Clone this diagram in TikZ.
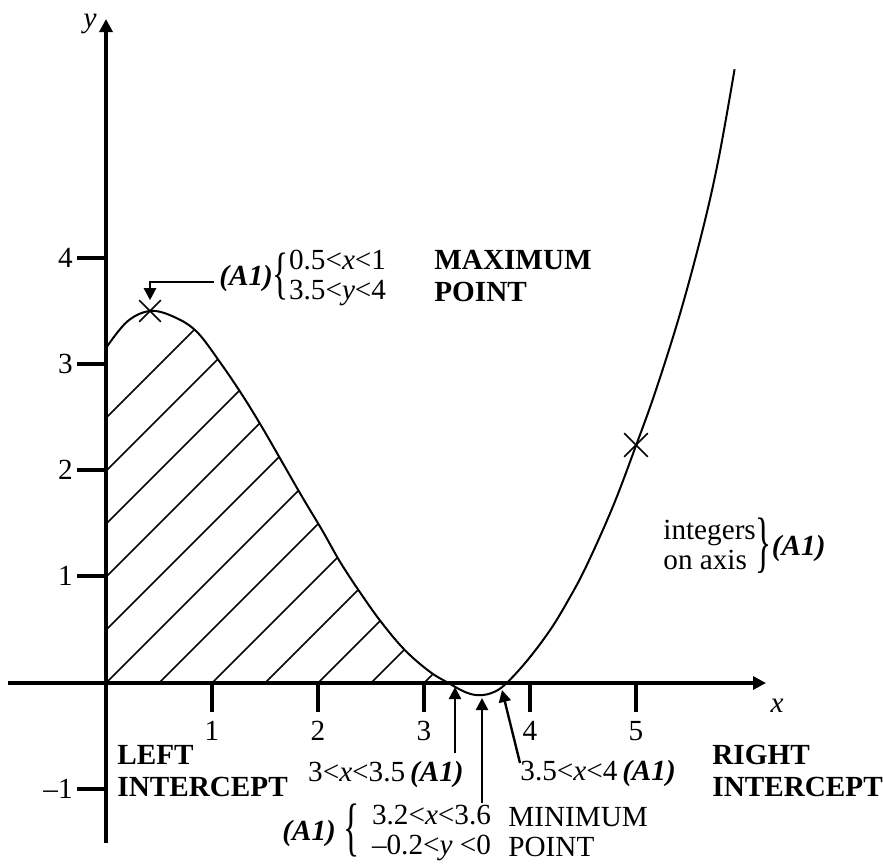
\documentclass[tikz,border=0pt]{standalone}
\usepackage{fontspec}
\setmainfont{Liberation Serif}
\usetikzlibrary{arrows.meta,shapes.misc}
\newcommand{\mybrace}[3]{\raisebox{#2}{\scalebox{1.15}[#1]{#3}}}
\begin{document}
\begin{tikzpicture}[x=0.5pt,y=-0.5pt,
  every node/.style={font=\fontsize{14.6}{15}\selectfont, inner sep=0pt},
  axis/.style={line width=1.6pt},
  axtip/.style={-{Triangle[length=6.5pt,width=6.5pt]}},
  curve/.style={line width=1pt},
  hatch/.style={line width=0.75pt},
  lbl/.style={line width=1.2pt, -{Triangle[length=6pt,width=6pt]}},
  xmark/.style={cross out, draw, minimum size=10pt, inner sep=0pt, line width=0.8pt},
  bftext/.style={font=\fontsize{14.6}{16}\selectfont\bfseries, align=left},
  ]
\useasboundingbox (0,0) rectangle (883,864);
\coordinate (O) at (106,683);
\coordinate (xstart) at (8,683);
\coordinate (xend) at (766,683);
\coordinate (ystart) at (106,843);
\coordinate (yend) at (106,19);

% hatching and curve
\begin{scope}[shift={(O)}, x=53pt, y=53pt]
  \begin{scope}
    \clip (0,0) rectangle (3.5,4);
    \clip (0,0) -- plot[smooth,tension=0.6] coordinates {(0,3.16) (0.2,3.41) (0.42,3.51) (0.65,3.45) (0.86,3.31) (1.08,3.02) (1.29,2.71) (1.48,2.40) (1.67,2.07) (1.86,1.74) (2.04,1.44) (2.21,1.14) (2.40,0.85) (2.60,0.57) (2.82,0.31) (3.05,0.11) (3.23,0) (3.40,-0.09) (3.53,-0.115) (3.66,-0.085) (3.78,0) (3.98,0.22) (4.19,0.50) (4.36,0.78) (4.53,1.10) (4.78,1.66) (5.0,2.24) (5.19,2.77) (5.42,3.50) (5.63,4.28) (5.78,4.95) (5.93,5.79)} -- (5.93,0) -- cycle;
    \foreach \c in {-3,-2.5,...,2.5} \draw[hatch] (0,\c) -- (4.5,4.5+\c);
  \end{scope}
  \draw[curve] plot[smooth,tension=0.6] coordinates {(0,3.16) (0.2,3.41) (0.42,3.51) (0.65,3.45) (0.86,3.31) (1.08,3.02) (1.29,2.71) (1.48,2.40) (1.67,2.07) (1.86,1.74) (2.04,1.44) (2.21,1.14) (2.40,0.85) (2.60,0.57) (2.82,0.31) (3.05,0.11) (3.23,0) (3.40,-0.09) (3.53,-0.115) (3.66,-0.085) (3.78,0) (3.98,0.22) (4.19,0.50) (4.36,0.78) (4.53,1.10) (4.78,1.66) (5.0,2.24) (5.19,2.77) (5.42,3.50) (5.63,4.28) (5.78,4.95) (5.93,5.79)};
\end{scope}

% axes
\draw[axis, axtip] (xstart) -- (xend);
\draw[axis, axtip] (ystart) -- (yend);
\node (ylab) at (90,24) {\textit{y}};
\node (xlab) at (777,706) {\textit{x}};

% ticks
\foreach \v/\py/\nm in {4/258/a,3/364/b,2/470/c,1/576/d,–1/789/e} {
  \draw[axis] (77,\py) -- (106,\py);
  \node[anchor=east] (yl\nm) at (73,\py) {\v};
}
\foreach \v in {1,...,5} {
  \draw[axis] (106+106*\v,683) -- (106+106*\v,712);
  \node (xl\v) at (106+106*\v,731) {\v};
}

% marks
\node[xmark] (mx) at (150,311) {};
\node[xmark, minimum size=11pt] (px) at (636,445) {};

% maximum
\node[anchor=west] (maxl) at (219,278) {\textbf{\textit{(A1)}}\mybrace{1.95}{-0.24em}{\{}\begin{tabular}{@{}l@{}}0.5<\textit{x}<1\\3.5<\textit{y}<4\end{tabular}};
\node[bftext, anchor=west] (maxt) at (434,276) {MAXIMUM\\POINT};
\coordinate (ma) at (214,282);
\draw[lbl] (ma) -| (mx.north);

% integers on axis
\node[anchor=west] (intl) at (663,548) {\begin{tabular}{@{}l@{}}integers\\on axis\end{tabular}\mybrace{2.3}{-0.33em}{\}}\textbf{\textit{(A1)}}};

% intercepts
\node[bftext, anchor=west] (li) at (117,771) {LEFT\\INTERCEPT};
\node[bftext, anchor=west] (ri) at (712,771) {RIGHT\\INTERCEPT};
\node[anchor=east] (lcl) at (464,774) {3<\textit{x}<3.5\,\textbf{\textit{(A1)}}};
\node[anchor=west] (rcl) at (520,773) {3.5<\textit{x}<4\,\textbf{\textit{(A1)}}};

\coordinate (lcs) at (455,753);
\coordinate (lct) at (455,687);
\draw[lbl] (lcs) -- (lct);
\coordinate (rcs) at (520,763);
\coordinate (rct) at (502,690);
\draw[lbl] (rcs) -- (rct);

% minimum
\node[anchor=west] (minl) at (282,833) {\textbf{\textit{(A1)}}\hspace{4pt}\mybrace{2.2}{-0.3em}{\{}\hspace{6pt}\begin{tabular}{@{}l@{}}3.2<\textit{x}<3.6\\–0.2<\textit{y} <0\end{tabular}};
\node[anchor=west, align=left] (mint) at (508,832) {MINIMUM\\POINT};
\coordinate (mns) at (482,803);
\coordinate (mnt) at (482,698);
\draw[lbl] (mns) -- (mnt);
\end{tikzpicture}
\end{document}
